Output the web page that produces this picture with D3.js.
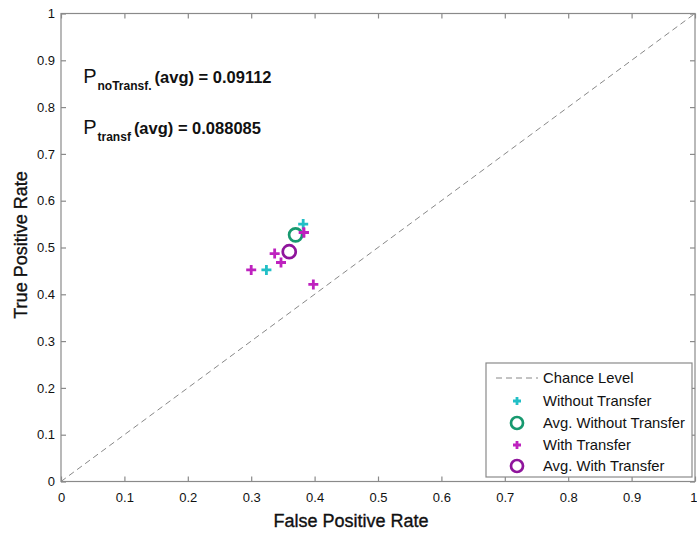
<!DOCTYPE html>
<html><head><meta charset="utf-8">
<script src="https://cdn.jsdelivr.net/npm/d3@7"></script>
<style>body{margin:0;background:#fff}svg{display:block;font-family:"Liberation Sans",Arial,sans-serif}</style>
</head><body><svg id="c" width="697" height="534"></svg>
<script>
const xTicks = [0,0.1,0.2,0.3,0.4,0.5,0.6,0.7,0.8,0.9,1];
const yTicks = [0,0.1,0.2,0.3,0.4,0.5,0.6,0.7,0.8,0.9,1];
const chanceLine = [[0,0],[1,1]];
const withoutFPR = [0.324, 0.382];
const withoutTPR = [0.452, 0.550];
const avgWithoutFPR = [0.370];
const avgWithoutTPR = [0.527];
const withFPR = [0.300, 0.337, 0.347, 0.383, 0.398];
const withTPR = [0.452, 0.487, 0.468, 0.532, 0.421];
const avgWithFPR = [0.360];
const avgWithTPR = [0.491];
const legendLabels = ["Chance Level","Without Transfer","Avg. Without Transfer","With Transfer","Avg. With Transfer"];
const annotations = [
  {sub:"noTransf.", text:"(avg) = 0.09112", x:0.035, y:0.852},
  {sub:"transf", text:"(avg) = 0.088085", x:0.035, y:0.743}
];

const L=61, T=13.5, R=695, B=481.5;
const svg = d3.select("#c");
const x = d3.scaleLinear().domain([0,1]).range([L,R]);
const y = d3.scaleLinear().domain([0,1]).range([B,T]);
const frame = "#8a8a8a";

svg.append("rect").attr("x",L).attr("y",T).attr("width",R-L).attr("height",B-T)
  .attr("fill","none").attr("stroke",frame).attr("stroke-width",1.2);

const tl = 5;
function styleAxis(g){ g.select(".domain").remove(); g.selectAll("line").attr("stroke",frame).attr("stroke-width",1.2); }
svg.append("g").attr("transform",`translate(0,${B})`)
  .call(d3.axisBottom(x).tickValues(xTicks).tickFormat(d3.format("")).tickSizeInner(-tl).tickPadding(11))
  .call(styleAxis).call(g=>{
    g.selectAll("text").attr("font-size",13).attr("fill","#111").attr("font-family","Liberation Sans, Arial");
    g.selectAll(".tick").filter(d=>d===1).select("text").attr("text-anchor","end").attr("x",2);
  });
svg.append("g").attr("transform",`translate(${L},0)`)
  .call(d3.axisLeft(y).tickValues(yTicks).tickFormat(d3.format("")).tickSizeInner(-tl).tickPadding(6))
  .call(styleAxis).call(g=>g.selectAll("text").attr("font-size",13).attr("fill","#111").attr("font-family","Liberation Sans, Arial"));
svg.append("g").attr("transform",`translate(0,${T})`)
  .call(d3.axisTop(x).tickValues(xTicks).tickFormat("").tickSizeInner(-tl))
  .call(styleAxis);
svg.append("g").attr("transform",`translate(${R},0)`)
  .call(d3.axisRight(y).tickValues(yTicks).tickFormat("").tickSizeInner(-tl))
  .call(styleAxis);

svg.append("text").attr("x",(L+R)/2-27).attr("y",527).attr("text-anchor","middle")
  .attr("font-size",18).attr("fill","#111").attr("stroke","#111").attr("stroke-width",0.35).text("False Positive Rate");
svg.append("text").attr("transform",`translate(27,${245}) rotate(-90)`).attr("text-anchor","middle")
  .attr("font-size",18).attr("fill","#111").attr("stroke","#111").attr("stroke-width",0.35).text("True Positive Rate");

svg.append("path").datum(chanceLine)
  .attr("d",d3.line().x(d=>x(d[0])).y(d=>y(d[1])))
  .attr("stroke","#888").attr("stroke-width",1).attr("stroke-dasharray","6,4").attr("fill","none");

const cyan="#22bfc6", green="#17996f", magenta="#be22bf", purple="#8f159c";
function plus(g, px, py, col, s){
  g.append("path").attr("d",`M${px-s},${py}H${px+s}M${px},${py-s}V${py+s}`)
    .attr("stroke",col).attr("stroke-width",2.8).attr("fill","none");
}
const pts = svg.append("g");
withoutFPR.forEach((v,i)=>plus(pts,x(v),y(withoutTPR[i]),cyan,5));
withFPR.forEach((v,i)=>plus(pts,x(v),y(withTPR[i]),magenta,5));
avgWithoutFPR.forEach((v,i)=>pts.append("circle").attr("cx",x(v)).attr("cy",y(avgWithoutTPR[i])).attr("r",6.5)
  .attr("fill","none").attr("stroke",green).attr("stroke-width",2.7));
avgWithFPR.forEach((v,i)=>pts.append("circle").attr("cx",x(v)).attr("cy",y(avgWithTPR[i])).attr("r",6.5)
  .attr("fill","none").attr("stroke",purple).attr("stroke-width",2.7));
plus(pts,x(withFPR[3]),y(withTPR[3]),magenta,5);

annotations.forEach(a=>{
  const t = svg.append("text").attr("x",x(a.x)).attr("y",y(a.y)).attr("fill","#111");
  t.append("tspan").attr("font-size",20).text("P");
  t.append("tspan").attr("font-size",12).attr("font-weight","bold").attr("dy",7).attr("dx",1).text(a.sub);
  t.append("tspan").attr("font-size",16.5).attr("font-weight","bold").attr("dy",-7).attr("dx",3).text(a.text);
});

const lg = svg.append("g");
lg.append("rect").attr("x",486).attr("y",363).attr("width",206).attr("height",114)
  .attr("fill","#fff").attr("stroke",frame).attr("stroke-width",1.2);
const rowY = [378, 401, 423, 445, 466];
legendLabels.forEach((lab,i)=>{
  lg.append("text").attr("x",543).attr("y",rowY[i]).attr("dy","0.35em").attr("font-size",14.8).attr("fill","#111").text(lab);
});
lg.append("line").attr("x1",496).attr("x2",538).attr("y1",rowY[0]).attr("y2",rowY[0])
  .attr("stroke","#888").attr("stroke-width",1).attr("stroke-dasharray","6,4");
plus(lg,517,rowY[1],cyan,4);
lg.append("circle").attr("cx",517).attr("cy",rowY[2]).attr("r",6).attr("fill","none").attr("stroke",green).attr("stroke-width",2.7);
plus(lg,517,rowY[3],magenta,4);
lg.append("circle").attr("cx",517).attr("cy",rowY[4]).attr("r",6).attr("fill","none").attr("stroke",purple).attr("stroke-width",2.7);
</script></body></html>
